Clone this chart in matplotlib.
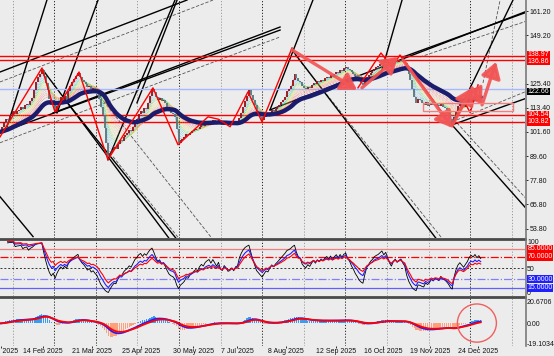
import numpy as np
import pandas as pd
import matplotlib
matplotlib.use("Agg")
import matplotlib.pyplot as plt
from matplotlib.patches import Rectangle, Ellipse, FancyArrowPatch
from matplotlib.lines import Line2D
import matplotlib.transforms as mtransforms

plt.rcParams["font.family"] = ["Liberation Sans", "DejaVu Sans"]

# ---------------- data ----------------
close = [
    101.6, 104.0, 106.5, 108.0, 107.2, 109.5, 110.0, 111.8, 110.6, 112.0,
    112.5, 113.8, 113.0, 114.6, 115.5, 114.8, 117.0, 118.5, 122.0, 126.0,
    128.5, 130.2, 132.0, 129.0, 125.7, 122.0, 118.0, 115.0, 116.5, 111.4,
    114.5, 117.0, 119.0, 117.5, 119.5, 118.0, 121.5, 124.0, 126.0, 127.5,
    129.0, 130.5, 128.5, 127.0, 126.2, 125.0, 123.5, 124.2, 122.5, 123.0,
    121.8, 120.8, 118.0, 114.0, 110.0, 103.5, 96.0, 89.0, 91.0, 92.7,
    94.0, 93.2, 95.5, 97.7, 97.0, 99.0, 100.2, 101.0, 102.5, 101.8,
    104.0, 106.5, 108.0, 110.5, 112.0, 111.0, 113.5, 113.0, 116.0, 119.5,
    122.5, 121.0, 119.0, 117.4, 118.5, 116.8, 117.5, 116.0, 114.0, 112.0,
    111.0, 110.5, 109.0, 103.0, 96.0, 97.5, 98.2, 99.0, 100.5, 100.0,
    101.2, 101.8, 102.6, 103.2, 102.8, 104.1, 105.0, 104.5, 105.8, 106.5,
    107.0, 106.2, 107.5, 106.8, 106.0, 107.2, 105.5, 105.0, 106.4, 105.8,
    104.8, 105.0, 105.6, 104.9, 105.8, 106.0, 108.5, 111.0, 114.0, 117.0,
    119.5, 122.0, 120.0, 117.5, 115.0, 112.0, 110.5, 109.0, 107.5, 108.8,
    110.0, 109.5, 111.0, 112.5, 111.8, 113.0, 113.9, 115.0, 116.2, 117.5,
    119.0, 121.5, 122.5, 124.0, 127.0, 130.0, 128.0, 126.5, 126.0, 124.0,
    123.0, 122.5, 123.8, 123.2, 124.5, 125.8, 125.0, 126.5, 126.0, 127.2,
    126.8, 128.0, 128.7, 128.2, 129.5, 128.8, 130.0, 131.0, 130.4, 132.0,
    131.5, 133.0, 133.5, 132.5, 132.0, 131.0, 130.2, 129.0, 128.0, 126.5,
    125.5, 124.8, 126.5, 128.5, 129.5, 130.7, 131.5, 132.8, 133.5, 134.0,
    135.0, 136.2, 135.5, 137.0, 136.0, 134.8, 134.0, 135.5, 136.5, 135.8,
    136.5, 137.0, 136.2, 135.6, 133.0, 130.0, 127.0, 122.5, 119.0, 116.0,
    118.0, 117.4, 116.0, 115.0, 116.2, 114.5, 115.0, 116.0, 114.8, 115.5,
    115.0, 114.2, 115.2, 114.0, 113.5, 112.5, 111.0, 108.0, 105.5, 109.0,
    112.0, 114.5, 116.0, 115.0, 114.0, 115.5, 117.0, 120.0, 121.5, 121.0,
    123.0, 122.0, 123.5, 122.66,
]

date_labels = ["9 Jan 2025", "14 Feb 2025", "21 Mar 2025", "25 Apr 2025", "30 May 2025",
               "7 Jul 2025", "8 Aug 2025", "12 Sep 2025", "16 Oct 2025", "19 Nov 2025",
               "24 Dec 2025"]
date_pos = [0.3, 22.6, 48.4, 74.2, 101.6, 124.7, 150.5, 176.8, 201.6, 226.3, 251.6]

price_ticks = [161.20, 149.20, 125.40, 113.40, 101.60, 89.60, 77.80, 65.80, 53.80]
resist_levels = [138.97, 136.86]
support_levels = [110.0, 106.5]
support_labels = ["104.54", "103.82"]
last_price = 122.66

# zigzag pivots (bar, price)
zz_bar = [0, 22.1, 28.9, 41.6, 56.8, 80.5, 93.7, 109.5, 115.0, 121.1, 130.5, 137.9, 153.7]
zz_price = [99.1, 133.1, 111.4, 131.1, 87.8, 123.3, 95.2, 109.0, 107.8, 104.1, 121.3, 106.5, 143.0]
zz2_bar = [188.4, 200.5, 206.3, 210.5, 237.9, 244.7, 247.5, 251.6]
zz2_price = [123.3, 140.5, 133.6, 139.5, 104.5, 115.9, 111.0, 124.8]

# black trend lines (bar0, price0, bar1, price1)
solid_lines = [
    (0, 131.1, 98.4, 166.6), (0, 101.1, 147.4, 151.8), (27.9, 110.9, 147.4, 153.3),
    (142.1, 112.4, 278.9, 161.7), (212.1, 138.5, 278.9, 161.2), (237.9, 105.0, 278.9, 118.8),
    (22.6, 132.1, 89.5, 48.4), (34.2, 117.4, 93.2, 48.4), (0, 69.6, 17.4, 49.9),
    (153.7, 142.0, 230.0, 48.4), (237.9, 105.0, 278.9, 61.7),
    (3.7, 104.1, 24.7, 166.6), (30.0, 110.9, 51.6, 166.6), (56.8, 87.8, 92.1, 166.6),
    (72.1, 115.9, 93.2, 166.6), (142.1, 112.4, 164.7, 166.6), (200.0, 128.7, 211.6, 166.6),
    (237.9, 105.0, 270.0, 166.6),
]
thin_lines = [
    (0, 126.2, 112.1, 166.6), (0, 96.2, 147.4, 148.4), (221.0, 138.5, 278.9, 156.8),
    (240.5, 107.5, 278.9, 122.3), (51.1, 120.8, 112.1, 48.4), (155.3, 139.5, 233.2, 48.4),
    (240.5, 106.0, 278.9, 66.6), (59.5, 89.3, 94.7, 48.4), (254.2, 125.7, 263.2, 166.6),
]

# thick arrows (bar0, price0, bar1, price1)
arrows = [
    (153.7, 142.0, 187.9, 122.3), (190.5, 123.3, 209.5, 138.5), (212.1, 137.1, 237.9, 103.6),
    (237.9, 104.5, 248.4, 123.3), (248.4, 123.3, 253.7, 114.9), (253.7, 114.9, 261.1, 136.1),
]
box_bar = (222.6, 270.0)
box_price = (111.9, 115.9)

# ---------------- helpers ----------------
s = pd.Series(close)
bars = np.arange(len(close))
opens = np.r_[close[0], close[:-1]]

def rsi(series, n):
    d = series.diff()
    up = d.clip(lower=0).ewm(alpha=1 / n, adjust=False).mean()
    dn = (-d.clip(upper=0)).ewm(alpha=1 / n, adjust=False).mean()
    r = 100 - 100 / (1 + up / dn)
    r.iloc[:4] = np.nan
    return r

W, H = 554, 356
BG = "#ececec"
FS = 5.0
fig = plt.figure(figsize=(W / 100, H / 100), dpi=100, facecolor=BG)

def axes_px(top, bottom):
    return fig.add_axes([0, 1 - bottom / H, 525 / W, (bottom - top) / H], facecolor=BG)

ax = axes_px(0, 237.7)
ax_r = axes_px(239.7, 296.0)
ax_m = axes_px(297.5, 346.0)
XMAX = 525 / 1.9
for a in (ax, ax_r, ax_m):
    a.set_xlim(0, XMAX)
    for sp in a.spines.values():
        sp.set_visible(False)
    a.tick_params(axis="y", left=False, labelleft=False, right=True, labelright=True,
                  length=2, width=0.6, pad=1.5, labelsize=FS, colors="#111111")
    a.tick_params(axis="x", bottom=False, labelbottom=False)
    for i, gx in enumerate(np.arange(12.5, 525, 41.6) / 1.9):
        dark = i in (1, 2, 4, 6, 8, 11)
        a.axvline(gx, color="#222222" if dark else "#9a9a9a", lw=0.7,
                  ls=(0, (1.2, 1.8)), zorder=0.5)

# ---------------- main panel ----------------
ax.set_ylim(49.36, 166.63)
ax.set_yticks(price_ticks)
ax.set_yticklabels([f"{v:.2f}" for v in price_ticks])

for (b0, p0, b1, p1) in thin_lines:
    ax.plot([b0, b1], [p0, p1], color="#555555", lw=0.6, ls=(0, (4, 2)), zorder=1)
for (b0, p0, b1, p1) in solid_lines:
    ax.plot([b0, b1], [p0, p1], color="black", lw=1.0, zorder=1.2)

for lv in resist_levels + support_levels:
    ax.axhline(lv, color="red", lw=1.0, zorder=1.5)
ax.axhline(last_price, color="#a8b8ff", lw=1.0, zorder=1.4)

fan_spans = [2, 3, 4, 5, 6, 7, 8, 10, 12, 14, 16, 18, 20, 23]
fan_colors = ["#2060ff", "#4090ff", "#40b8ff", "#30d0e0", "#30d090", "#40e040", "#90e020",
              "#e0e000", "#ffc820", "#ffa040", "#ff8050", "#ff7070", "#ff5050", "#ff3030"]
for sp_, col in zip(fan_spans, fan_colors):
    ax.plot(bars, s.ewm(span=sp_, adjust=False).mean(), color=col, lw=0.45,
            ls=(0, (1, 1.6)), alpha=0.85, zorder=2)

cl = np.array(close)
up = cl >= opens
ax.vlines(bars[up], opens[up], cl[up], color="#9b1010", lw=1.3, zorder=3)
ax.vlines(bars[~up], opens[~up], cl[~up], color="#5a7676", lw=1.3, zorder=3)

ax.plot(bars, s.ewm(span=32, adjust=False).mean(), color="#1c1c6c", lw=3.2, zorder=3.5,
        solid_capstyle="round")

ax.plot(zz_bar, zz_price, color="red", lw=1.0, zorder=4)
ax.plot(zz2_bar, zz2_price, color="red", lw=1.0, zorder=4)

for (b0, p0, b1, p1) in arrows:
    ax.add_patch(FancyArrowPatch((b0, p0), (b1, p1), arrowstyle="-|>,head_length=0.8,head_width=0.5",
                                 mutation_scale=12, color="#f25555", lw=2.4, alpha=0.92,
                                 shrinkA=0, shrinkB=0, zorder=5))
ax.add_patch(Rectangle((box_bar[0], box_price[0]), box_bar[1] - box_bar[0],
                       box_price[1] - box_price[0], fill=False, ec="#f08080", lw=1.0, zorder=5))

def tag(a, y, txt, fc, dy=0.0):
    trf = mtransforms.blended_transform_factory(a.transAxes, a.transData)
    a.text(1.005, y + dy, txt, transform=trf, ha="left", va="center", fontsize=FS,
           color="white", clip_on=False, zorder=10,
           bbox=dict(facecolor=fc, edgecolor="none", pad=0.3))

tag(ax, resist_levels[0], f"{resist_levels[0]:.2f}", "red", 0.8)
tag(ax, resist_levels[1], f"{resist_levels[1]:.2f}", "red", -0.6)
tag(ax, last_price, f"{last_price:.2f}", "black", -1.2)
tag(ax, support_levels[0], support_labels[0], "red")
tag(ax, support_levels[1], support_labels[1], "red")

# ---------------- RSI panel ----------------
ax_r.set_ylim(0, 101)
ax_r.set_yticks([97, 50, 6])
ax_r.set_yticklabels(["100", "50", "0"])
ax_r.tick_params(axis="y", length=0)
ax_r.axhline(85, color="#f08080", lw=0.9)
ax_r.axhline(70, color="red", lw=0.9, ls="-.")
ax_r.axhline(50, color="#333333", lw=0.7, ls=(0, (2, 2)))
ax_r.axhline(30, color="#8080ff", lw=0.9, ls="-.")
ax_r.axhline(15, color="#6060ff", lw=0.9)
ax_r.plot(bars, rsi(s, 8), color="black", lw=0.6, zorder=3)
ax_r.plot(bars, rsi(s, 13), color="#2020ff", lw=0.8, zorder=3)
ax_r.plot(bars, rsi(s, 18), color="red", lw=0.8, zorder=3)
tag(ax_r, 85, "85.0000", "red")
tag(ax_r, 70, "70.0000", "red")
tag(ax_r, 30, "30.0000", "#2020ff")
tag(ax_r, 15, "15.0000", "#2020ff")

# ---------------- MACD panel ----------------
macd = s.ewm(span=6, adjust=False).mean() - s.ewm(span=20, adjust=False).mean()
sig1 = macd.ewm(span=9, adjust=False).mean()
sig2 = macd.ewm(span=13, adjust=False).mean()
ax_m.set_ylim(-21.5, 24.6)
ax_m.set_yticks([20.6706, 0.0, -19.1034])
ax_m.set_yticklabels(["20.6706", "0.00", "-19.1034"])
ax_m.tick_params(axis="y", length=0)
hcol = np.where(macd.values >= 0, "#3a9cf0", "#ffa07a")
ax_m.bar(bars, macd.values, width=0.7, color=hcol, zorder=2)
ax_m.plot(bars, sig1, color="#2020ff", lw=1.3, zorder=3)
ax_m.plot(bars, sig2, color="red", lw=1.3, zorder=3)
ax_m.add_patch(Ellipse((251, 0.3), 39 / 1.9, 38 / 1.047, fill=False, ec="#f06060", lw=1.0, zorder=5))
ax_m.set_xticks(date_pos)
ax_m.set_xticklabels(date_labels)
ax_m.tick_params(axis="x", bottom=True, labelbottom=True, length=1.5, width=0.6, pad=0.2,
                 labelsize=FS, colors="#111111")

# separators & border
for yy in (238.7, 296.7):
    fig.add_artist(Line2D([0, 525 / W], [1 - yy / H] * 2, transform=fig.transFigure,
                          color="#4a4a4a", lw=2.0))
fig.add_artist(Line2D([525.5 / W] * 2, [1 - 346.0 / H, 1], transform=fig.transFigure,
                      color="#7a7a7a", lw=1.2))

fig.savefig("out.png", dpi=100, facecolor=BG)
